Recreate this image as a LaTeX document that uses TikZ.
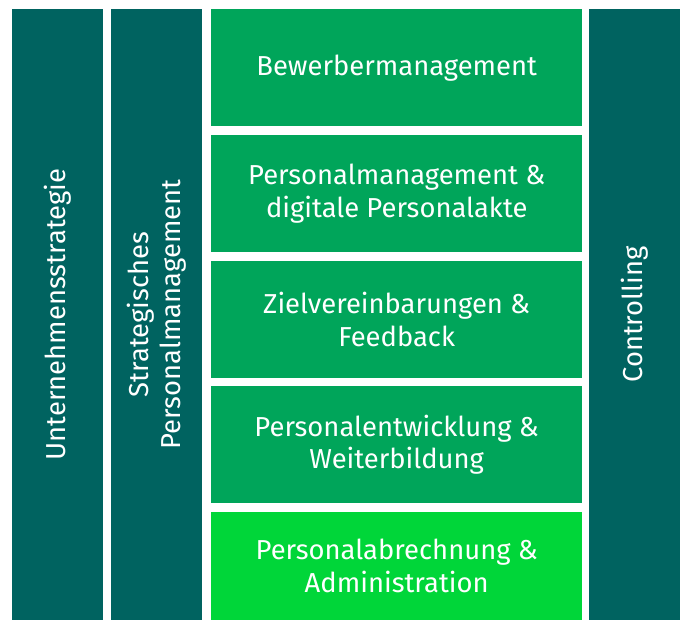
\documentclass[tikz,border=0pt]{standalone}
\usepackage{fontspec}
\setmainfont{Fira Sans}
\usepackage{xcolor}
\definecolor{darkteal}{RGB}{0,99,96}
\definecolor{midgreen}{RGB}{0,165,90}
\definecolor{lightgreen}{RGB}{0,214,57}

\tikzset{
  pillar/.style={fill=darkteal, text=white, rotate=90, minimum width=611bp, minimum height=91bp, inner sep=0, align=center, font=\fontsize{27.5}{32}\selectfont},
  module/.style={fill=midgreen, text=white, anchor=north west, minimum width=371bp, minimum height=117bp, inner sep=0, align=center, font=\fontsize{27.5}{33}\selectfont}
}

\begin{document}
\begin{tikzpicture}[x=1bp, y=-1bp]
\useasboundingbox (0,0) rectangle (682,620);

% columns at the sides
\node[pillar] (strategie) at (57.5,314.5) {Unternehmensstrategie};
\node[pillar] (personal) at (156.5,314.5) {Strategisches\\Personalmanagement};
\node[pillar] (controlling) at (634.5,314.5) {Controlling};

% modules in the middle
\node[module] (bewerber) at (211,9) {Bewerbermanagement};
\node[module] (akte) at (211,135) {Personalmanagement \&\\digitale Personalakte};
\node[module] (ziele) at (211,260.5) {Zielvereinbarungen \&\\Feedback};
\node[module] (entwicklung) at (211,386) {Personalentwicklung \&\\Weiterbildung};
\node[module, fill=lightgreen, minimum height=108bp] (abrechnung) at (211,512) {Personalabrechnung \&\\Administration};

\end{tikzpicture}
\end{document}
